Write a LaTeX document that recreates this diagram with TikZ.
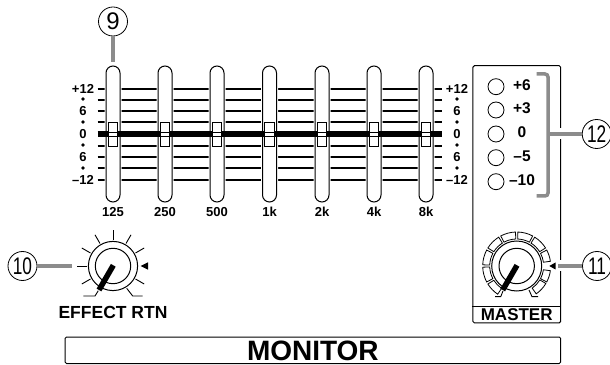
\documentclass[tikz,border=0pt]{standalone}
\usepackage{fontspec}
\setmainfont{Liberation Sans}
\usepackage{graphicx}
\usetikzlibrary{positioning}
\definecolor{leadgray}{gray}{0.55}
\newcommand{\narrownum}[1]{\scalebox{0.72}[1]{#1}}
\tikzset{
  sliderbox/.style={draw,fill=white,rounded corners=7pt,minimum width=14pt,minimum height=136pt,inner sep=0pt,line width=1pt,preaction={draw=white,line width=3pt}},
  capbox/.style={draw,fill=white,minimum width=9.5pt,minimum height=24pt,inner sep=0pt,line width=.7pt},
  scalelabel/.style={font=\fontsize{13}{13}\selectfont\bfseries,inner sep=0pt},
  ledlabel/.style={font=\fontsize{15.5}{15.5}\selectfont\bfseries,inner sep=0pt},
  ledlamp/.style={draw,circle,minimum size=16pt,inner sep=0pt,line width=.8pt},
  callout/.style={draw,circle,fill=white,minimum size=29pt,inner sep=0pt,line width=.8pt,font=\fontsize{24}{24}\selectfont},
  leadline/.style={color=leadgray,line width=3.5pt},
  panelbox/.style={draw,rounded corners=1.5pt,line width=1pt,inner sep=0pt}
}
\begin{document}
\begin{tikzpicture}[x=1pt,y=1pt]
  \useasboundingbox (0,0) rectangle (610,364);
  % fader rows
  \foreach \y in {275,264,253,242,218,207,196,184}
    \draw[line width=1.1pt] (97.5,\y) -- (442,\y);
  \foreach \i/\x/\t in {1/113/125,2/165/250,3/217/500,4/269.5/1k,5/322/2k,6/374/4k,7/426/8k} {
    \node[sliderbox] (slider\i) at (\x,230) {};
    \node[scalelabel,text height=9.5pt,text depth=0pt,below=4pt of slider\i] (freq\i) {\t};
  }
  \draw[line width=6pt] (97.5,230) -- (442,230);
  \foreach \i/\x in {1/113,2/165,3/217,4/269.5,5/322,6/374,7/426} {
    \node[capbox] (cap\i) at (\x,230) {};
    \draw[line width=.7pt] (cap\i.west |- 0,232) -- (cap\i.east |- 0,232);
    \draw[line width=.7pt] (cap\i.west |- 0,228) -- (cap\i.east |- 0,228);
  }
  % scales on both sides
  \foreach \x in {83,457} {
    \foreach \y/\t in {275/+12,253/6,230/0,207/6,184/--12}
      \node[scalelabel] at (\x,\y) {\t};
    \foreach \y in {265,242,219,196}
      \fill (\x,\y) circle (1.8);
  }
  % effect knob
  \begin{scope}[shift={(113,98)}]
    \foreach \a in {-30,30,60,90,120,150,180,210}
      \draw[line width=.9pt] (\a:26) -- (\a:36);
    \draw[line width=.9pt] (-14.7,-24.7) -- (-18,-30) -- (-29.7,-30);
    \draw[line width=.9pt] (13.7,-22.3) -- (19.7,-30) -- (29.7,-30);
    \draw[line width=1pt] (0,0) circle (24.6);
    \draw[line width=1pt] (0,0) circle (17.7);
    \draw[line width=5.5pt] (.3,.7) -- (-14,-24);
    \fill (27.7,0) -- (35,3.7) -- (35,-3.7) -- cycle;
  \end{scope}
  \node[scalelabel,font=\fontsize{17.5}{17.5}\selectfont\bfseries] (effectname) at (113,51.5) {EFFECT RTN};
  % master strip
  \node[panelbox,minimum width=87.7pt,minimum height=257.3pt] (panel) at (516.8,169.7) {};
  \draw[line width=1pt] (panel.west |- 0,57.3) -- (panel.east |- 0,57.3);
  \node[scalelabel,font=\fontsize{17}{17}\selectfont\bfseries] (mastername) at (516.7,49) {MASTER};
  \foreach \i/\y/\t in {1/277.3/+6,2/254/+3,3/230/0,4/206.3/--5,5/182.3/--10} {
    \node[ledlamp] (led\i) at (496,\y) {};
    \node[ledlabel] (ledtext\i) at (522,\y+1.5) {\t};
  }
  % master knob
  \begin{scope}[shift={(516.7,98)}]
    \foreach \a/\b in {-55/-31,-28/-8,8/28,32/58,62/88,92/118,122/148,152/178,182/208,212/236}
      \draw[line width=.8pt] (\a:27) arc (\a:\b:27) -- (\b:34) arc (\b:\a:34) -- cycle;
    \draw[line width=.9pt] (-13.7,-25) -- (-16,-30.7) -- (-21.7,-30.7);
    \draw[line width=.9pt] (12.3,-24) -- (15.3,-30.7) -- (21.3,-30.7);
    \draw[line width=1pt] (0,0) circle (25);
    \draw[line width=1pt] (0,0) circle (17.7);
    \draw[line width=5.5pt] (.3,.7) -- (-14,-24);
  \end{scope}
  % callouts
  \coordinate (nineend) at (113,302);
  \coordinate (tenend) at (72,98);
  \coordinate (elevenend) at (558,98);
  \coordinate (elevengap) at (566,98);
  \coordinate (twelveend) at (548,230);
  \coordinate (twelvegap) at (566,230);
  \draw[white,line width=11pt] (elevenend) -- (elevengap);
  \draw[white,line width=11pt] (twelveend) -- (twelvegap);
  \node[callout] (nine) at (113,342.5) {9};
  \node[callout] (ten) at (22.5,98) {\narrownum{10}};
  \node[callout] (eleven) at (597,98) {\narrownum{11}};
  \node[callout] (twelve) at (596.7,230) {\narrownum{12}};
  \draw[leadline] (nine) -- (nineend);
  \draw[leadline] (ten) -- (tenend);
  \draw[leadline] (eleven) -- (elevenend);
  \draw[leadline] (twelve) -- (twelveend);
  \draw[leadline,rounded corners=3pt] (536.7,290) -- (548,290) -- (548,168) -- (536.7,168);
  \fill (549.3,98) -- (555.5,101.5) -- (555.5,94.5) -- cycle;
  % title
  \node[panelbox,text height=20pt,text depth=0pt,minimum width=495.7pt,minimum height=26.5pt,font=\fontsize{28}{28}\selectfont\bfseries] (monitor) at (312.85,13.75) {MONITOR};
\end{tikzpicture}
\end{document}
